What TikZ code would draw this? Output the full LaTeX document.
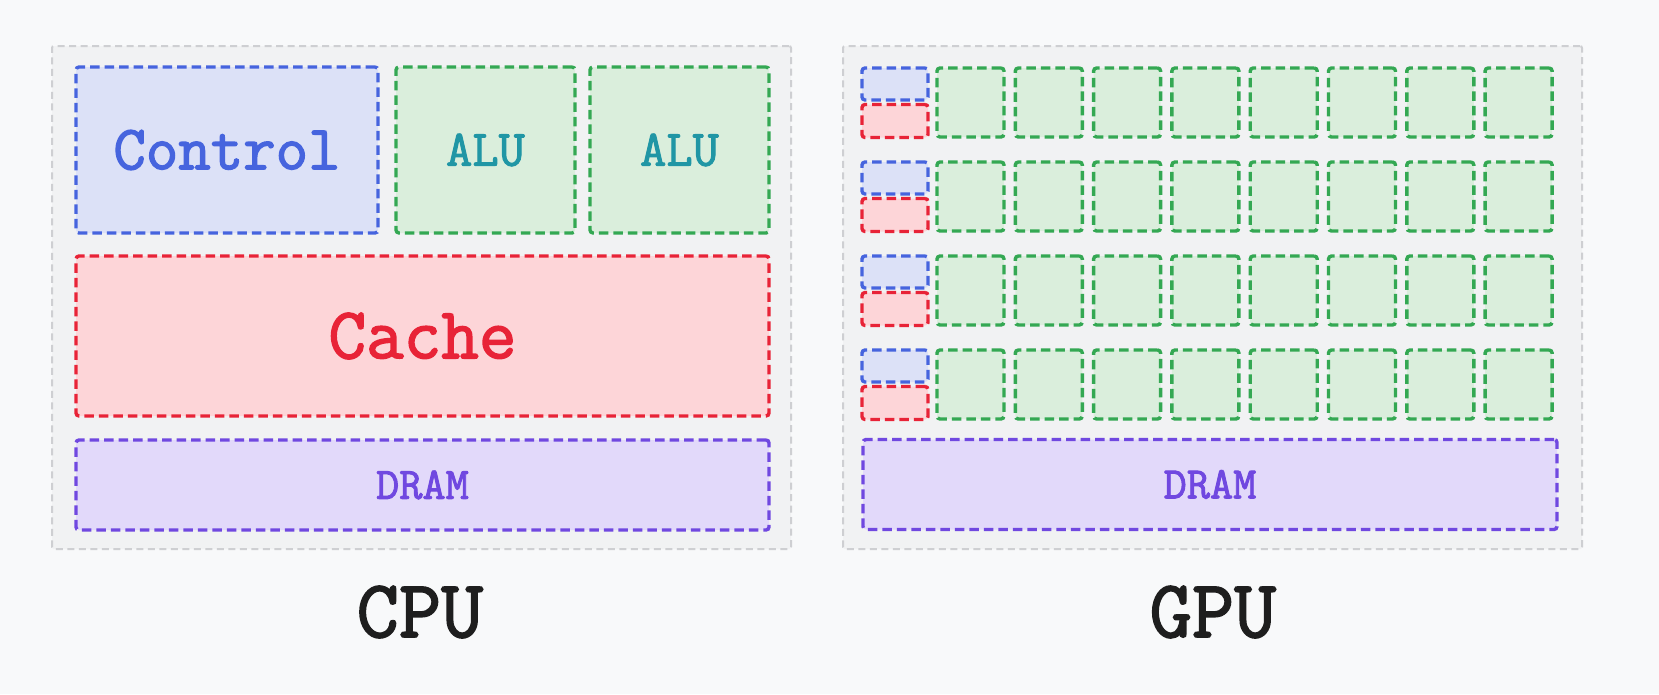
\documentclass[tikz,border=0pt]{standalone}
\usepackage{fontspec}
\newfontfamily\boxfont{Latin Modern Mono}[FakeBold=2]
\usetikzlibrary{positioning}
\definecolor{pagebg}{RGB}{248,249,250}
\definecolor{framebg}{RGB}{241,242,243}
\definecolor{framefr}{RGB}{206,207,210}
\definecolor{ctrlbg}{RGB}{220,225,247}
\definecolor{ctrlfr}{RGB}{70,100,222}
\definecolor{alubg}{RGB}{218,238,220}
\definecolor{alufr}{RGB}{52,168,83}
\definecolor{alutxt}{RGB}{32,150,165}
\definecolor{cachebg}{RGB}{253,213,216}
\definecolor{cachefr}{RGB}{232,35,55}
\definecolor{drambg}{RGB}{226,217,250}
\definecolor{dramfr}{RGB}{112,72,224}
\definecolor{ink}{RGB}{30,30,30}
\tikzset{
  unit/.style={rounded corners=3pt, dash pattern=on 9.5pt off 5pt, line width=3.4pt,
    inner sep=0pt, align=center},
  frame/.style={draw=framefr, fill=framebg, rounded corners=2pt, line width=2pt,
    dash pattern=on 7pt off 4.5pt, inner sep=0pt, minimum width=739pt, minimum height=503pt},
  ctrl/.style={unit, draw=ctrlfr, fill=ctrlbg, text=ctrlfr},
  alu/.style={unit, draw=alufr, fill=alubg, text=alutxt},
  cache/.style={unit, draw=cachefr, fill=cachebg, text=cachefr},
  dram/.style={unit, draw=dramfr, fill=drambg, text=dramfr,
    minimum width=693pt, minimum height=90pt, font=\boxfont\fontsize{45}{45}\selectfont},
  chiplabel/.style={text=ink, font=\boxfont\fontsize{82}{82}\selectfont},
  ctrlmini/.style={ctrl, minimum width=66pt, minimum height=32pt},
  cachemini/.style={cache, minimum width=66pt, minimum height=33pt},
  alumini/.style={alu, minimum width=67pt, minimum height=69pt},
}
\begin{document}
\begin{tikzpicture}[x=1pt, y=-1pt]
  \fill[pagebg] (0,0) rectangle (1659,694);
  \useasboundingbox (0,0) rectangle (1659,694);
  % CPU
  \node[frame] (cpu) at (421.5,297.5) {};
  \node[ctrl, minimum width=302pt, minimum height=166pt,
    font=\boxfont\fontsize{63}{63}\selectfont] (control) at (227,150) {Control};
  \node[alu, minimum width=179pt, minimum height=166pt,
    font=\boxfont\fontsize{51}{51}\selectfont] (alua) at (485.5,150) {ALU};
  \node[alu, minimum width=179pt, minimum height=166pt,
    font=\boxfont\fontsize{51}{51}\selectfont] (alub) at (679.5,150) {ALU};
  \node[cache, minimum width=693pt, minimum height=160pt,
    font=\boxfont\fontsize{73}{73}\selectfont] (cachecpu) at (422.5,336) {Cache};
  \node[dram] (dramcpu) at (422.5,485) {DRAM};
  \node[chiplabel] (cpulabel) at (420,612) {CPU};
  % GPU
  \node[frame] (gpu) at (1212.5,297.5) {};
  \foreach \r in {0,...,3} {
    \node[ctrlmini] (gc\r) at (895,{84+94*\r}) {};
    \node[cachemini] (gm\r) at (895,{121+94*\r}) {};
    \foreach \c in {0,...,7}
      \node[alumini] (ga\r\c) at ({970.5+78.3*\c},{102.5+94*\r}) {};
  }
  \node[dram, minimum width=694pt] (dramgpu) at (1210,484.5) {DRAM};
  \node[chiplabel] (gpulabel) at (1213,612) {GPU};
\end{tikzpicture}
\end{document}
